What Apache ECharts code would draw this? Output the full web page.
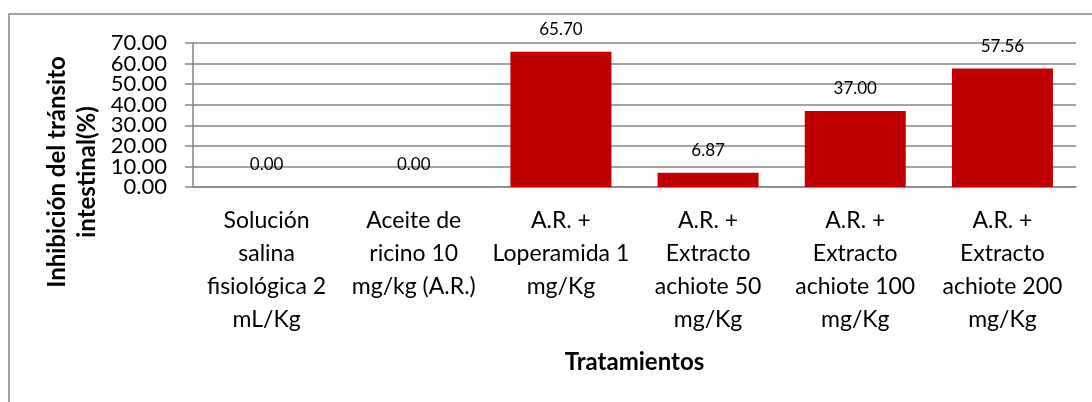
<!DOCTYPE html>
<html>
<head>
<meta charset="utf-8">
<title>Inhibición del tránsito intestinal</title>
<script src="https://cdn.jsdelivr.net/npm/echarts@6/dist/echarts.min.js"></script>
</head>
<body style="margin:0; background:#fff">
<div id="main" style="width:1092px; height:402px"></div>
<script>
// tratamientos y % de inhibicion
var categories = [
  'Solución\nsalina\nfisiológica 2\nmL/Kg',
  'Aceite de\nricino 10\nmg/kg (A.R.)',
  'A.R. +\nLoperamida 1\nmg/Kg',
  'A.R. +\nExtracto\nachiote 50\nmg/Kg',
  'A.R. +\nExtracto\nachiote 100\nmg/Kg',
  'A.R. +\nExtracto\nachiote 200\nmg/Kg'
];
var inhibicion = [0.00, 0.00, 65.70, 6.87, 37.00, 57.56];
var yTickLabels = ['0.00', '10.00', '20.00', '30.00', '40.00', '50.00', '60.00', '70.00'];

var font = 'Lato, "Open Sans", sans-serif';
var grayLine = '#868686';

var chart = echarts.init(document.getElementById('main'));
chart.setOption({
  animation: false,
  backgroundColor: '#fff',
  grid: { left: 193, top: 43, right: 16, bottom: 215 },
  xAxis: {
    type: 'category',
    data: categories,
    name: 'Tratamientos',
    nameLocation: 'middle',
    nameGap: 163,
    nameTextStyle: { fontFamily: font, fontSize: 24, fontWeight: 'bold', color: '#000', verticalAlign: 'top' },
    axisLine: { lineStyle: { color: grayLine, width: 1.5 } },
    axisTick: { show: false },
    axisLabel: {
      interval: 0, margin: 17, color: '#000',
      fontFamily: font, fontSize: 23, lineHeight: 33,
      verticalAlign: 'top'
    }
  },
  yAxis: [
    {
      // escala de valores: linea, marcas y rejilla
      type: 'value',
      min: 0, max: 70, interval: 10,
      axisLine: { show: true, lineStyle: { color: grayLine, width: 1.5 } },
      axisTick: { show: true, length: 8, lineStyle: { color: grayLine, width: 1.5 } },
      splitLine: { lineStyle: { color: grayLine, width: 1.5 } },
      axisLabel: { show: false }
    },
    {
      // etiquetas de marcas (muy juntas, como en el original)
      type: 'category',
      data: yTickLabels,
      position: 'left',
      boundaryGap: false,
      axisLine: { show: false },
      axisTick: { show: false },
      splitLine: { show: false },
      axisLabel: {
        interval: 0, margin: 26, color: '#000',
        fontFamily: font, fontSize: 22
      }
    }
  ],
  series: [{
    type: 'bar',
    data: inhibicion,
    yAxisIndex: 0,
    barWidth: 101,
    itemStyle: { color: '#C00000' },
    label: {
      show: true, position: 'top', distance: 14,
      color: '#000', fontFamily: font, fontSize: 17,
      formatter: function (p) { return p.value.toFixed(2); }
    }
  }],
  graphic: [
    {
      type: 'rect', silent: true, z: -1,
      shape: { x: 9, y: 14, width: 1200, height: 500 },
      style: { fill: 'none', stroke: grayLine, lineWidth: 1.5 }
    },
    {
      type: 'text', x: 72, y: 172, rotation: Math.PI / 2,
      style: {
        text: 'Inhibición del tránsito\nintestinal(%)',
        fontFamily: font, fontSize: 24, fontWeight: 'bold', fill: '#000',
        lineHeight: 30, align: 'center', verticalAlign: 'middle'
      }
    }
  ]
});
</script>
</body>
</html>
